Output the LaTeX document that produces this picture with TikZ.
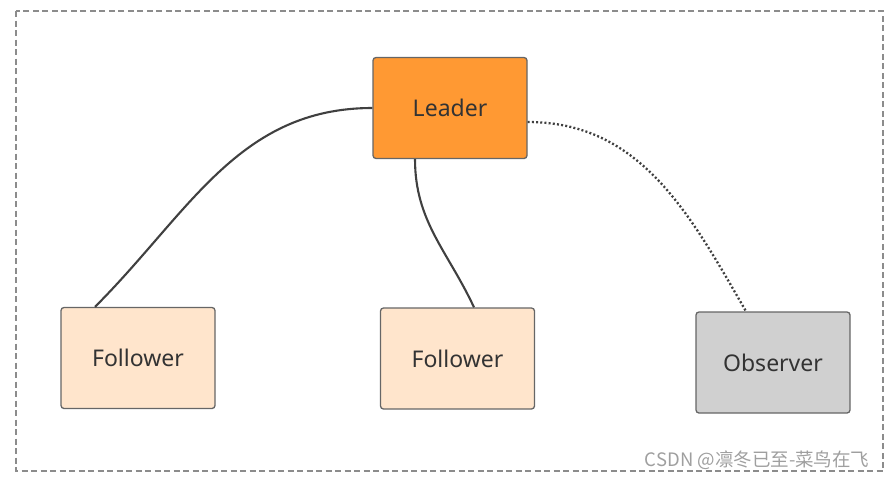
\documentclass[tikz,border=0pt]{standalone}
\usepackage{fontspec}
\setmainfont{Noto Sans}
\newfontfamily\cjk{Noto Sans CJK SC}
\usepackage{xcolor}
\usepackage{tikz}
\usetikzlibrary{calc,positioning}

\definecolor{leaderfill}{HTML}{FF9933}
\definecolor{followfill}{HTML}{FFE5CC}
\definecolor{obsfill}{HTML}{D0D0D0}
\definecolor{linegray}{HTML}{404040}
\definecolor{textgray}{HTML}{333333}

\begin{document}
\begin{tikzpicture}[x=1pt, y=-1pt,
    role/.style={draw=linegray!80, line width=1.3pt, rounded corners=3pt,
      minimum width=154pt, minimum height=101pt, text=textgray,
      font=\fontsize{23}{27}\selectfont},
    link/.style={draw=linegray, line width=2.1pt},
    watch/.style={draw=linegray, line width=2.3pt, dash pattern=on 2pt off 2.2pt}]
  \useasboundingbox (0,0) rectangle (890,477);
  \draw [gray!90, line width=1.6pt, dash pattern=on 6pt off 3.5pt] (16,11) rectangle (883,471);
  \node [role, fill=leaderfill] at (450,108) (L) {Leader};
  \node [role, fill=followfill] at (138,358) (F1) {Follower};
  \node [role, fill=followfill] at (457.5,358.5) (F2) {Follower};
  \node [role, fill=obsfill] at (773,362.5) (O) {Observer};
  \draw [link] (L.west) to[out=180,in=45] ([xshift=-43pt] F1.north);
  \draw [link] ([xshift=-35pt] L.south) to[out=-90,in=115] ([xshift=16.5pt] F2.north);
  \draw [watch] ([yshift=-14pt] L.east) to[out=0,in=120] ([xshift=-27pt] O.north);
  \node [anchor=east, text=gray!75, font=\cjk\fontsize{18.5}{21}\selectfont] at (873,460) (W) {CSDN @凛冬已至-菜鸟在飞};
\end{tikzpicture}
\end{document}
